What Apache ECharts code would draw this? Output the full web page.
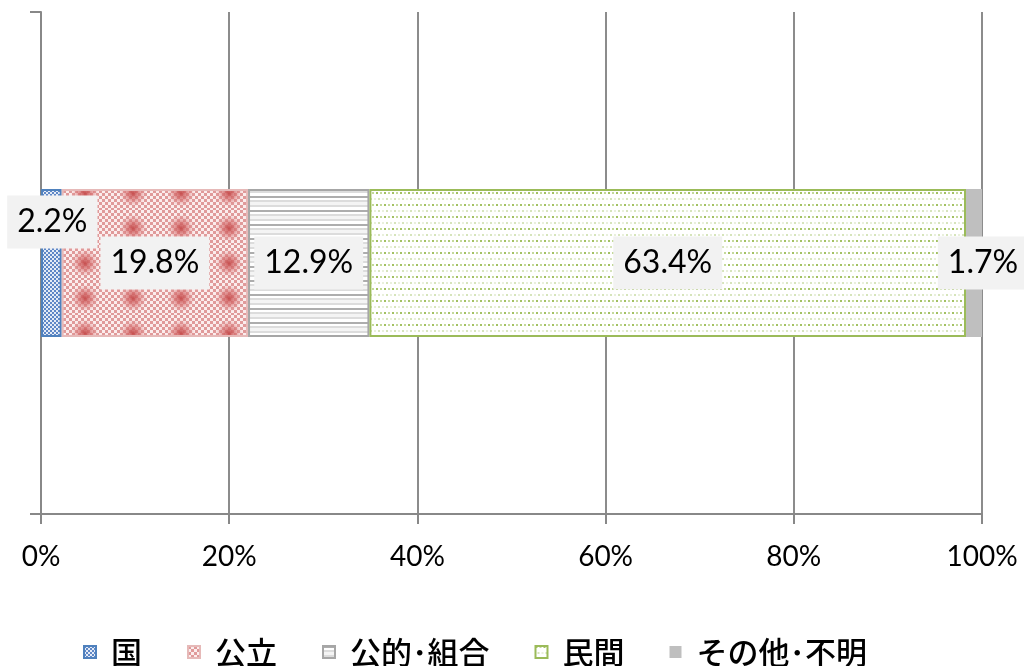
<!DOCTYPE html>
<html>
<head>
<meta charset="utf-8">
<script src="https://cdn.jsdelivr.net/npm/echarts@6/dist/echarts.min.js"></script>
<style>
html,body{margin:0;padding:0;background:#fff;}
#main{width:1024px;height:666px;}
</style>
</head>
<body>
<div id="main"></div>
<script>
// ---- data ----
const categories = [''];
const seriesNames = ['国', '公立', '公的･組合', '民間', 'その他･不明'];
const valKuni = [2.2];
const valKoritsu = [19.8];
const valKoteki = [12.9];
const valMinkan = [63.4];
const valSonota = [1.7];
const xTicks = [0, 20, 40, 60, 80, 100];

// ---- patterns ----
function makePattern(w, h, draw) {
  const c = document.createElement('canvas');
  c.width = w; c.height = h;
  const ctx = c.getContext('2d');
  draw(ctx, w, h);
  return { image: c, repeat: 'repeat' };
}
const patKuni = makePattern(4, 4, (ctx) => {
  ctx.fillStyle = '#e4ebf6'; ctx.fillRect(0, 0, 4, 4);
  ctx.fillStyle = '#5f87c6';
  ctx.fillRect(0, 0, 2, 2); ctx.fillRect(2, 2, 2, 2);
});
const patKoritsu = makePattern(48, 35, (ctx, w, h) => {
  for (let y = 0; y < h; y += 3) {
    for (let x = 0; x < w; x += 3) {
      ctx.fillStyle = (((x / 3) + Math.floor(y / 3)) % 2 === 0) ? '#e09a9a' : '#fbeded';
      ctx.fillRect(x, y, 3, 3);
    }
  }
  [[37, 18], [-11, 18]].forEach(([cx, cy]) => {
    const g = ctx.createRadialGradient(cx, cy, 0, cx, cy, 14);
    g.addColorStop(0, 'rgba(196,72,72,0.95)');
    g.addColorStop(0.5, 'rgba(214,110,110,0.6)');
    g.addColorStop(1, 'rgba(230,160,160,0)');
    ctx.fillStyle = g;
    ctx.fillRect(cx - 14, cy - 14, 28, 28);
  });
});
const patKoteki = makePattern(4, 14, (ctx) => {
  const rows = ['#adadad', '#adadad', '#ffffff', '#ffffff', '#dcdcdc', '#dcdcdc', '#f4f4f4', '#f4f4f4', '#f4f4f4', '#dcdcdc', '#dcdcdc', '#ffffff', '#ffffff', '#ffffff'];
  rows.forEach((c, i) => { ctx.fillStyle = c; ctx.fillRect(0, i, 4, 1); });
});
const patMinkan = makePattern(8, 12, (ctx) => {
  ctx.fillStyle = '#ffffff'; ctx.fillRect(0, 0, 8, 12);
  ctx.fillStyle = '#a3c163'; ctx.fillRect(0, 0, 2, 2);
  ctx.fillStyle = '#c4d99a'; ctx.fillRect(4, 0, 2, 2);
  ctx.fillStyle = '#d6e4bb'; ctx.fillRect(2, 6, 2, 2);
  ctx.fillStyle = '#e9f0dc'; ctx.fillRect(6, 6, 2, 2);
});

const seriesValues = [valKuni, valKoritsu, valKoteki, valMinkan, valSonota];
const fills = [patKuni, patKoritsu, patKoteki, patMinkan, '#bfbfbf'];
const borders = ['#4f81bd', '#e6b9b8', '#a6a6a6', '#9bbb59', '#bfbfbf'];
const borderWidths = [2, 2, 2, 2, 0];
const labelOffsets = [[1, -41], [0, 0], [0, 0], [0, 0], [9, 0]];

const numFont = 'Lato, "Noto Sans", sans-serif';
const cjkFont = '"Noto Sans CJK JP", sans-serif';

const series = seriesNames.map((name, i) => ({
  name: name,
  type: 'bar',
  stack: 'total',
  barWidth: 148,
  data: seriesValues[i],
  itemStyle: { color: fills[i], borderColor: borders[i], borderWidth: borderWidths[i] },
  label: {
    show: true,
    position: 'inside',
    offset: labelOffsets[i],
    formatter: (p) => p.value.toFixed(1) + '%',
    fontFamily: numFont,
    fontSize: 32,
    lineHeight: 34,
    color: '#000',
    backgroundColor: '#f2f2f2',
    padding: [10, 10, 9, 10]
  },
  emphasis: { disabled: true },
  animation: false
}));

const chart = echarts.init(document.getElementById('main'));
chart.setOption({
  animation: false,
  backgroundColor: '#ffffff',
  grid: { left: 41, right: 42, top: 12, bottom: 152, containLabel: false },
  xAxis: {
    type: 'value',
    min: 0, max: 100, interval: 20,
    axisLine: { show: true, lineStyle: { color: '#888888', width: 2 } },
    axisTick: { show: true, length: 10, lineStyle: { color: '#888888', width: 2 } },
    splitLine: { show: true, lineStyle: { color: '#8c8c8c', width: 2 } },
    axisLabel: {
      formatter: (v) => (xTicks.indexOf(v) >= 0 ? v + '%' : ''),
      fontFamily: numFont, fontSize: 28, color: '#000', margin: 29
    }
  },
  yAxis: {
    type: 'category',
    data: categories,
    axisLine: { show: true, lineStyle: { color: '#888888', width: 2 } },
    axisTick: { show: true, length: 11, lineStyle: { color: '#888888', width: 2 } },
    axisLabel: { show: false },
    splitLine: { show: false }
  },
  legend: {
    data: seriesNames,
    left: 83,
    top: 636,
    padding: 0,
    itemWidth: 12,
    itemHeight: 12,
    itemGap: 45,
    icon: 'rect',
    textStyle: { fontFamily: cjkFont, fontSize: 31, fontWeight: 500, lineHeight: 32, color: '#000', padding: [0, 0, 0, 10] }
  },
  series: series
});
</script>
</body>
</html>
